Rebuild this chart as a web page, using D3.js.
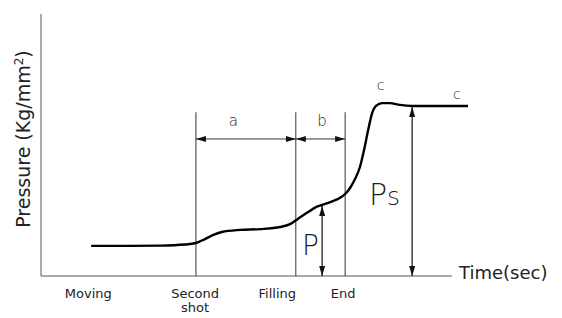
<!DOCTYPE html>
<html>
<head>
<meta charset="utf-8">
<script src="https://cdn.jsdelivr.net/npm/d3@7"></script>
<style>
  body { margin: 0; background: #fff; }
  text { font-family: "DejaVu Sans", "Liberation Sans", Arial, sans-serif; fill: #222; }
</style>
</head>
<body>
<div id="chart"></div>
<script>
// ======= data (time / pressure in arbitrary units)
var curveT = [12.2, 21.7, 29.0, 35.0, 37.7, 39.9, 41.8, 44.0, 48.4, 53.3, 58.2, 60.6, 62.5, 65.0, 66.9, 68.4,
              71.0, 72.7, 74.0, 75.2, 76.4, 77.6, 78.6, 79.6, 80.5, 81.5, 83.0, 84.9, 87.3, 90.3, 94.6, 103.9];
var curveP = [11.5, 11.5, 11.6, 12.0, 12.6, 14.1, 15.6, 16.8, 17.6, 17.9, 18.7, 19.8, 21.8, 24.4, 26.3, 27.1,
              28.6, 29.8, 31.3, 33.6, 37.0, 41.6, 48.1, 55.7, 61.8, 64.9, 66.0, 66.0, 65.3, 64.9, 64.9, 64.9];

var stageLabels = [["Moving"], ["Second", "shot"], ["Filling"], ["End"]];
var stageT = [11.5, 37.5, 57.5, 73.5];

var markerT = [37.7, 62.0, 74.0];   // second shot, filling, end
var spanLabels = ["a", "b"];
var spanLabelT = [46.8, 68.4];
var pT = 68.4, pValue = 27.1;
var psT = 90.3, psValue = 64.9;

var w = 562, h = 318;
var x = d3.scaleLinear().domain([0, 100]).range([41, 452]);
var y = d3.scaleLinear().domain([0, 100]).range([276, 14]);

var svg = d3.select("#chart").append("svg")
  .attr("width", w)
  .attr("height", h);

// ======= arrowhead
var defs = svg.append("defs");
defs.append("marker")
  .attr("id", "arr")
  .attr("viewBox", "0 0 10 6")
  .attr("refX", 10).attr("refY", 3)
  .attr("markerWidth", 10).attr("markerHeight", 6)
  .attr("markerUnits", "userSpaceOnUse")
  .attr("orient", "auto-start-reverse")
  .append("path")
  .attr("d", "M0,0 L10,3 L0,6 Z")
  .attr("fill", "#111");

// ======= axes
svg.append("line")
  .attr("x1", x(0)).attr("x2", x(0))
  .attr("y1", y(100)).attr("y2", y(0))
  .attr("stroke", "#555").attr("stroke-width", 1);
svg.append("line")
  .attr("x1", x(0)).attr("x2", x(100))
  .attr("y1", y(0)).attr("y2", y(0))
  .attr("stroke", "#555").attr("stroke-width", 1);

svg.append("text")
  .text("Time(sec)")
  .attr("x", x(100) + 7)
  .attr("y", y(0) + 3)
  .attr("font-size", "18px");

svg.append("text")
  .attr("transform", "translate(30,139) rotate(-90)")
  .attr("text-anchor", "middle")
  .attr("font-size", "19px")
  .text("Pressure (Kg/mm")
  .append("tspan")
  .attr("dy", -7).attr("font-size", "12px").text("2")
  .select(function() { return this.parentNode; })
  .append("tspan")
  .attr("dy", 7).text(")");

// ======= stage labels
var stage = svg.selectAll(".stage")
  .data(stageLabels)
  .enter()
  .append("text")
  .attr("class", "stage")
  .attr("text-anchor", "middle")
  .attr("font-size", "13px")
  .attr("x", function(d, j) { return x(stageT[j]); })
  .attr("y", 298);
stage.selectAll("tspan")
  .data(function(d) { return d; })
  .enter()
  .append("tspan")
  .attr("x", function() { return this.parentNode.getAttribute("x"); })
  .attr("dy", function(d, k) { return k === 0 ? 0 : 14; })
  .text(function(d) { return d; });

// ======= vertical marker lines
svg.selectAll(".marker")
  .data(markerT)
  .enter()
  .append("line")
  .attr("x1", function(d) { return x(d); })
  .attr("x2", function(d) { return x(d); })
  .attr("y1", y(62.5))
  .attr("y2", y(0))
  .attr("stroke", "#333")
  .attr("stroke-width", 1);

// ======= a / b dimension arrows
var spans = [[markerT[0], markerT[1]], [markerT[1], markerT[2]]];
svg.selectAll(".span")
  .data(spans)
  .enter()
  .append("line")
  .attr("x1", function(d) { return x(d[0]); })
  .attr("x2", function(d) { return x(d[1]); })
  .attr("y1", y(52.3)).attr("y2", y(52.3))
  .attr("stroke", "#333")
  .attr("stroke-width", 1)
  .attr("marker-start", "url(#arr)")
  .attr("marker-end", "url(#arr)");

svg.selectAll(".spanLabel")
  .data(spanLabels)
  .enter()
  .append("text")
  .attr("text-anchor", "middle")
  .attr("font-size", "15px")
  .attr("font-weight", "200")
  .attr("x", function(d, j) { return x(spanLabelT[j]); })
  .attr("y", y(57.2))
  .text(function(d) { return d; });

// ======= P and Ps arrows
var heights = [[pT, pValue], [psT, psValue]];
svg.selectAll(".height")
  .data(heights)
  .enter()
  .append("line")
  .attr("x1", function(d) { return x(d[0]); })
  .attr("x2", function(d) { return x(d[0]); })
  .attr("y1", function(d) { return y(d[1]) + 1; })
  .attr("y2", y(0))
  .attr("stroke", "#111")
  .attr("stroke-width", 1.2)
  .attr("marker-start", "url(#arr)")
  .attr("marker-end", "url(#arr)");

svg.append("text")
  .text("P")
  .attr("x", 302)
  .attr("y", 255)
  .attr("font-size", "28px")
  .attr("font-weight", "200");

svg.append("text")
  .attr("x", 369)
  .attr("y", 205)
  .attr("font-size", "30px")
  .attr("font-weight", "200")
  .text("P")
  .append("tspan")
  .attr("font-size", "25px")
  .text("s");

// ======= c labels
svg.selectAll(".cLabel")
  .data([[82.6, 71.0], [101.2, 67.5]])
  .enter()
  .append("text")
  .attr("text-anchor", "middle")
  .attr("font-size", "14px")
  .attr("font-weight", "200")
  .attr("x", function(d) { return x(d[0]); })
  .attr("y", function(d) { return y(d[1]); })
  .text("c");

// ======= pressure curve
var pts = curveT.map(function(t, j) { return [t, curveP[j]]; });
svg.append("path")
  .datum(pts)
  .attr("fill", "none")
  .attr("stroke", "#000")
  .attr("stroke-width", 2.4)
  .attr("d", d3.line()
    .x(function(d) { return x(d[0]); })
    .y(function(d) { return y(d[1]); })
    .curve(d3.curveMonotoneX));
</script>
</body>
</html>
